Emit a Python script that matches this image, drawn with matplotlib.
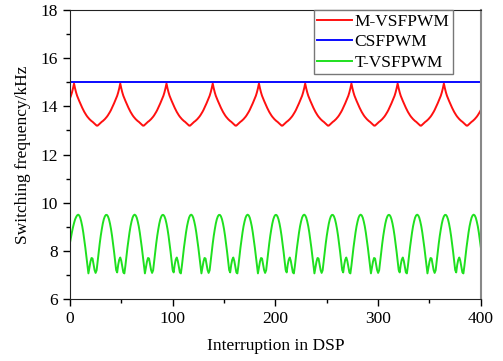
import matplotlib
matplotlib.use("Agg")
import matplotlib.pyplot as plt
from matplotlib.ticker import MultipleLocator
import numpy as np

# interrupt index on the DSP
n_int = np.arange(0, 401)

# M-VSFPWM, one 45-interrupt period starting at interrupt 0 (kHz)
m_vsf_cycle = [14.33, 14.44, 14.58, 14.75,
               14.95, 14.75, 14.58, 14.44, 14.33, 14.23, 14.13, 14.03, 13.94,
               13.85, 13.77, 13.70, 13.63, 13.57, 13.52, 13.47, 13.43, 13.39,
               13.36, 13.32, 13.28, 13.24, 13.20,
               13.20, 13.24, 13.28, 13.32, 13.36, 13.39, 13.43, 13.47, 13.52,
               13.57, 13.63, 13.70, 13.77, 13.85, 13.94, 14.03, 14.13, 14.23]

# CSFPWM, fixed carrier (kHz)
cs_freq = 15.0

# T-VSFPWM: start-up samples, then a repeating 55-interrupt block (two ripples)
t_vsf_start = [8.32, 8.55, 8.78, 8.98, 9.15, 9.30, 9.40, 9.47]
t_vsf_cycle = [9.50, 9.47, 9.38, 9.22, 9.02, 8.76, 8.46, 8.13, 7.76, 7.38,
               7.06, 7.30, 7.55, 7.70, 7.68, 7.45, 7.20, 7.08,
               7.19, 7.57, 7.95, 8.30, 8.62, 8.89, 9.13, 9.31, 9.43, 9.49,
               9.49, 9.43, 9.31, 9.13, 8.90, 8.62, 8.30, 7.95, 7.57, 7.20,
               7.10, 7.42, 7.63, 7.72, 7.58, 7.33, 7.10, 7.06,
               7.38, 7.76, 8.13, 8.46, 8.76, 9.02, 9.22, 9.38, 9.47]

m_vsf = np.tile(m_vsf_cycle, 10)[:len(n_int)]
t_vsf = np.concatenate([t_vsf_start, np.tile(t_vsf_cycle, 8)])[:len(n_int)]
cs = np.full(len(n_int), cs_freq)

plt.rcParams['font.family'] = ['Liberation Serif', 'DejaVu Serif']
plt.rcParams['font.size'] = 12.5

fig = plt.figure(figsize=(5.03, 3.61), dpi=100)
ax = fig.add_axes([0.139, 0.172, 0.817, 0.800])

ax.plot(n_int, m_vsf, color='#ff1010', linewidth=1.4, label='M-VSFPWM')
ax.plot(n_int, cs, color='#0a0aff', linewidth=1.4, label='CSFPWM')
ax.plot(n_int, t_vsf, color='#1fe01f', linewidth=1.4, label='T-VSFPWM')

ax.set_xlim(0, 400)
ax.set_ylim(6, 18)
ax.xaxis.set_major_locator(MultipleLocator(100))
ax.xaxis.set_minor_locator(MultipleLocator(50))
ax.yaxis.set_major_locator(MultipleLocator(2))
ax.yaxis.set_minor_locator(MultipleLocator(1))
ax.tick_params(which='major', direction='out', length=5, width=1, top=False, right=False)
ax.tick_params(which='minor', direction='out', length=3, width=1, top=False, right=False)

for side in ['left', 'bottom', 'top']:
    ax.spines[side].set_color('#222222')
ax.spines['right'].set_color('#888888')
ax.spines['right'].set_linewidth(1.5)

ax.set_xlabel('Interruption in DSP', labelpad=8)
ax.set_ylabel('Switching frequency/kHz', labelpad=7)

leg = ax.legend(loc='upper right', bbox_to_anchor=(0.932, 1.0), borderaxespad=0,
                fancybox=False, framealpha=1, handlelength=2.0,
                handletextpad=0.15, labelspacing=0.25, borderpad=0.2)
leg.get_frame().set_edgecolor('#777777')
leg.get_frame().set_linewidth(1.0)

fig.savefig('out.png', dpi=100)
